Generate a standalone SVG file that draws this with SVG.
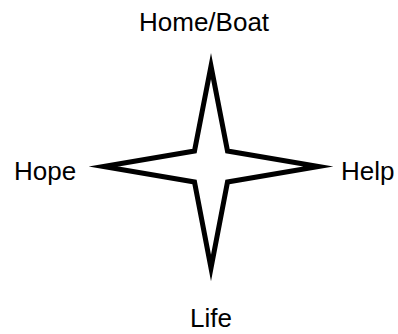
<svg xmlns="http://www.w3.org/2000/svg" width="398" height="334" viewBox="0 0 398 334">
<style>
.lbl{font-family:"Liberation Sans",Arial,sans-serif;font-size:26px;fill:#000}
.star{fill:#fff;stroke:#000;stroke-width:5;stroke-linejoin:miter;stroke-miterlimit:12}
</style>
<rect width="398" height="334" fill="#fff"/>
<g id="star">
<polygon class="star" points="211,66 227.5,151 318.5,166.5 227.5,182 211,268 194.5,182 103.5,166.5 194.5,151"/>
</g>
<g id="home"><text class="lbl" x="139" y="31">Home/Boat</text></g>
<g id="hope"><text class="lbl" x="14" y="180">Hope</text></g>
<g id="help"><text class="lbl" x="341" y="180">Help</text></g>
<g id="life"><text class="lbl" x="190" y="327">Life</text></g>
<g id="connectors"></g>
</svg>
